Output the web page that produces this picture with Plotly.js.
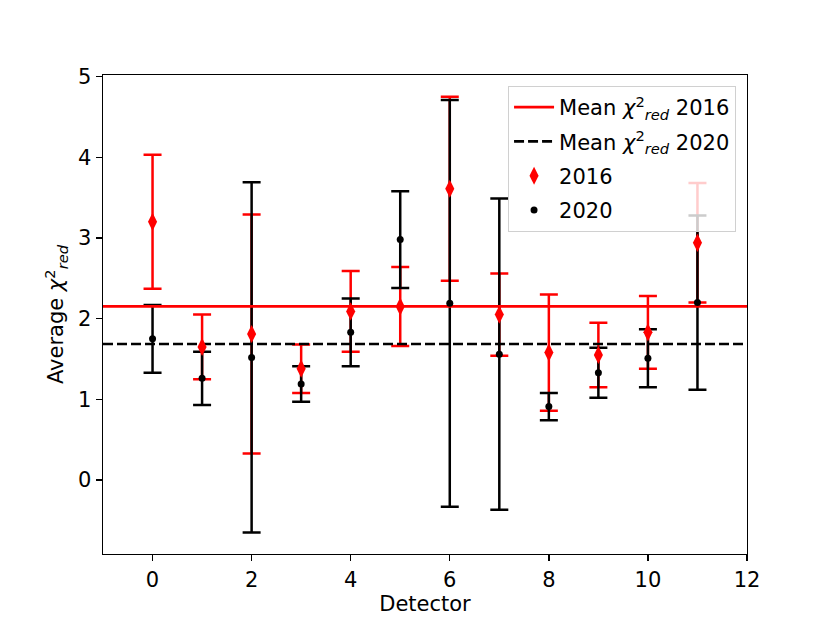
<!DOCTYPE html>
<html>
<head>
<meta charset="utf-8">
<script src="https://cdn.plot.ly/plotly-3.0.1.min.js"></script>
<style>
  html, body { margin: 0; padding: 0; background: #fff; }
  #chart { width: 830px; height: 623px; }
</style>
</head>
<body>
<div id="chart"></div>
<script>
// values
const detectors = [0, 1, 2, 3, 4, 5, 6, 7, 8, 9, 10, 11];
const chi2016 = [3.20, 1.65, 1.81, 1.38, 2.09, 2.15, 3.61, 2.05, 1.58, 1.55, 1.83, 2.94];
const err2016 = [0.83, 0.40, 1.48, 0.30, 0.50, 0.49, 1.14, 0.51, 0.72, 0.40, 0.45, 0.74];
const chi2020 = [1.75, 1.26, 1.52, 1.19, 1.83, 2.98, 2.19, 1.56, 0.91, 1.33, 1.51, 2.20];
const err2020 = [0.42, 0.33, 2.17, 0.22, 0.42, 0.60, 2.52, 1.93, 0.17, 0.31, 0.36, 1.08];

const xRange = [-1, 12];
const yRange = [-0.917, 5.02];

const mean = arr => arr.reduce((a, b) => a + b, 0) / arr.length;
const mean2016 = mean(chi2016);
const mean2020 = mean(chi2020);

const chi = '<i>χ</i><sup>2</sup><sub><i>red</i></sub>';
const font = 'DejaVu Sans, sans-serif';
const fs = 21;

function errTrace(y, err, color) {
  return {
    type: 'scatter', mode: 'markers', x: detectors, y: y,
    marker: { opacity: 0, size: 1 },
    error_y: { type: 'data', array: err, visible: true, color: color, thickness: 2.5, width: 9 },
    showlegend: false, hoverinfo: 'skip',
  };
}

const traces = [
  errTrace(chi2016, err2016, '#ff0000'),
  errTrace(chi2020, err2020, '#000000'),
  {
    type: 'scatter', mode: 'lines', x: xRange, y: [mean2016, mean2016],
    line: { color: '#ff0000', width: 2.7 },
    name: 'Mean ' + chi + ' 2016', legendgroup: 'a',
  },
  {
    type: 'scatter', mode: 'lines', x: xRange, y: [mean2020, mean2020],
    line: { color: '#000000', width: 2.7, dash: '10px,4px' },
    name: 'Mean ' + chi + ' 2020', legendgroup: 'b',
  },
  {
    type: 'scatter', mode: 'markers', x: detectors, y: chi2016,
    marker: { symbol: 'diamond-tall', color: '#ff0000', size: 13 },
    name: '2016', legendgroup: 'c',
  },
  {
    type: 'scatter', mode: 'markers', x: detectors, y: chi2020,
    marker: { symbol: 'circle', color: '#000000', size: 7 },
    name: '2020', legendgroup: 'd',
  },
];

const axisStyle = {
  showline: true, mirror: true, linecolor: '#000', linewidth: 1.4,
  ticks: 'outside', ticklen: 6, tickwidth: 1.4, tickcolor: '#000',
  showgrid: false, zeroline: false,
  tickfont: { family: font, size: fs, color: '#000' },
};

const layout = {
  width: 830, height: 623,
  margin: { l: 103, r: 83, t: 75, b: 69 },
  paper_bgcolor: '#fff', plot_bgcolor: '#fff',
  font: { family: font, size: fs, color: '#000' },
  xaxis: Object.assign({}, axisStyle, {
    range: xRange, tick0: 0, dtick: 2,
    title: { text: 'Detector', font: { family: font, size: fs }, standoff: 2 },
  }),
  yaxis: Object.assign({}, axisStyle, {
    range: yRange, tick0: 0, dtick: 1,
    title: { text: 'Average ' + chi, font: { family: font, size: fs }, standoff: 8 },
  }),
  legend: {
    x: 0.983, y: 0.977, xanchor: 'right', yanchor: 'top',
    bgcolor: 'rgba(255,255,255,0.8)', bordercolor: '#d0d0d0', borderwidth: 1,
    font: { family: font, size: fs, color: '#000' },
    traceorder: 'grouped', tracegroupgap: 4, itemwidth: 40,
  },
  showlegend: true,
};

Plotly.newPlot('chart', traces, layout, { displayModeBar: false, staticPlot: true });
</script>
</body>
</html>
